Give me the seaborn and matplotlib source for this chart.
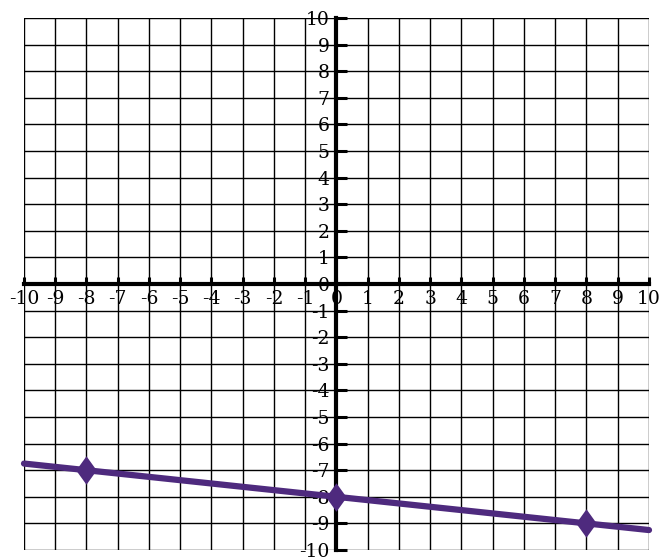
import matplotlib
matplotlib.use("Agg")
import matplotlib.pyplot as plt
import seaborn as sns
import pandas as pd

# datos de la recta y = -x/8 - 8
linea_x = [-10, -8, 0, 8, 10]
linea_y = [-6.75, -7, -8, -9, -9.25]
puntos_x = [-8, 0, 8]
puntos_y = [-7, -8, -9]
ticks = list(range(-10, 11))

sns.set_style("white")
plt.rcParams['font.family'] = ['DejaVu Serif']
plt.rcParams['text.color'] = 'black'
plt.rcParams['xtick.color'] = 'black'
plt.rcParams['ytick.color'] = 'black'

color = "#4E2A7E"
rombo = [(0, 1), (0.72, 0), (0, -1), (-0.72, 0), (0, 1)]

fig = plt.figure(figsize=(6.59, 5.59), dpi=100)
ax = fig.add_axes([24/659, 9/559, 625/659, 532/559])

df_linea = pd.DataFrame({"x": linea_x, "y": linea_y})
df_puntos = pd.DataFrame({"x": puntos_x, "y": puntos_y})
sns.lineplot(data=df_linea, x="x", y="y", color=color, lw=4.5, ax=ax, zorder=5, clip_on=False)
sns.scatterplot(data=df_puntos, x="x", y="y", color=color, marker=rombo, s=420,
                linewidth=0, ax=ax, zorder=6)

ax.set_xlim(-10, 10)
ax.set_ylim(-10, 10)
ax.set_xticks(ticks)
ax.set_yticks(ticks)
ax.set_xticklabels([str(t) for t in ticks])
ax.set_yticklabels([str(t) for t in ticks])
ax.grid(True, color="black", lw=1)
ax.set_axisbelow(True)

for s in ["top", "right"]:
    ax.spines[s].set_visible(False)
for s in ["left", "bottom"]:
    ax.spines[s].set_position("zero")
    ax.spines[s].set_linewidth(3)
    ax.spines[s].set_color("black")
    ax.spines[s].set_zorder(4)
ax.tick_params(axis="x", bottom=True, direction="in", length=5, width=2.2, pad=4, labelsize=13.5)
ax.tick_params(axis="y", left=True, direction="in", length=8, width=2.2, pad=5, labelsize=13.5)
ax.set_xlabel("")
ax.set_ylabel("")

plt.savefig("out.png", dpi=100)
